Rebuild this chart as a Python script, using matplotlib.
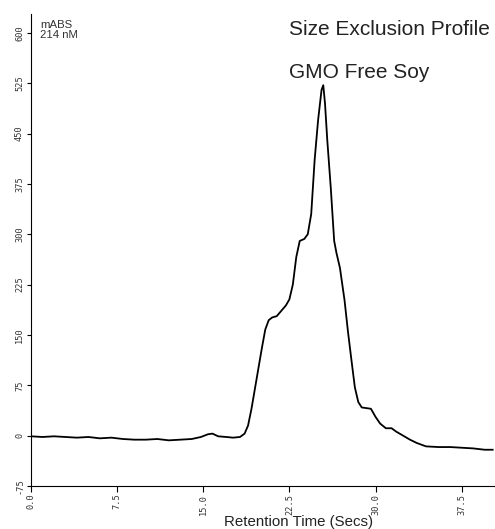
import matplotlib.pyplot as plt

# retention time (s) and absorbance (mABS)
time = [0.0, 1.0, 2.0, 3.0, 4.0, 5.0, 6.0, 7.0, 8.0, 9.0, 10.0, 11.0, 12.0, 13.0,
        14.0, 14.8, 15.4, 15.8, 16.3, 17.0, 17.6, 18.2, 18.6, 18.9, 19.2, 19.5,
        19.8, 20.1, 20.4, 20.7, 21.0, 21.4, 21.8, 22.2, 22.5, 22.8, 23.1, 23.4,
        23.8, 24.1, 24.4, 24.7, 25.0, 25.3, 25.45, 25.6, 25.8, 26.1, 26.4, 26.6,
        26.9, 27.3, 27.6, 27.9, 28.2, 28.5, 28.8, 29.2, 29.6, 30.0, 30.4, 30.9,
        31.4, 31.8, 32.4, 33.0, 33.6, 34.4, 35.5, 36.5, 37.5, 38.5, 39.5, 40.2]
mabs = [-1, -2, -1, -2, -3, -2, -4, -3, -5, -6, -6, -5, -7, -6,
        -5, -2, 2, 3, -1, -2, -3, -2, 3, 15, 40, 70,
        100, 130, 158, 172, 176, 178, 186, 194, 203, 225, 266, 290,
        293, 300, 330, 411, 470, 515, 522, 495, 440, 370, 290, 272,
        250, 202, 155, 113, 72, 50, 42, 41, 40, 28, 18, 11,
        11, 6, 0, -6, -11, -16, -17, -17, -18, -19, -21, -21]

xticks = [0.0, 7.5, 15.0, 22.5, 30.0, 37.5]
yticks = [-75, 0, 75, 150, 225, 300, 375, 450, 525, 600]

plt.rcParams['font.family'] = ['Liberation Sans', 'DejaVu Sans']

fig = plt.figure(figsize=(4.95, 5.29), dpi=100)
ax = fig.add_axes([0.0626, 0.0813, 0.935, 0.8922])
ax.plot(time, mabs, color="black", lw=1.3)

ax.set_xlim(0, 40.3)
ax.set_ylim(-75, 628)
ax.spines["top"].set_visible(False)
ax.spines["right"].set_visible(False)
ax.set_xticks(xticks)
ax.set_xticklabels(["%.1f" % t for t in xticks], rotation=90, fontsize=6.2,
                   family="DejaVu Sans Mono", color="#333333")
ax.set_yticks(yticks)
ax.set_yticklabels([str(t) for t in yticks], rotation=90, fontsize=6.2,
                   family="DejaVu Sans Mono", color="#333333", va="center")
ax.tick_params(axis="x", length=4, width=0.8, pad=1.5)
ax.tick_params(axis="y", length=3, width=0.8, pad=2)

fig.text(299 / 495, 1 - 526 / 529, "Retention Time (Secs)", fontsize=10.8,
         ha="center", va="baseline", color="#222222")
fig.text(40 / 495, 1 - 20 / 529, "mABS\n214 nM", fontsize=8.2, va="top",
         linespacing=1.05, color="#333333")
fig.text(289 / 495, 1 - 35 / 529, "Size Exclusion Profile", fontsize=15,
         va="baseline", color="#222222")
fig.text(289 / 495, 1 - 78 / 529, "GMO Free Soy", fontsize=15,
         va="baseline", color="#222222")

fig.savefig("out.png", dpi=100)
